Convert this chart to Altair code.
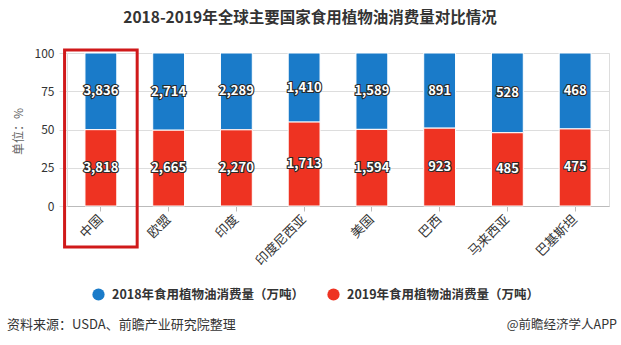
import altair as alt
import pandas as pd

countries = ["中国", "欧盟", "印度", "印度尼西亚", "美国", "巴西", "马来西亚", "巴基斯坦"]
v2018 = [3836, 2714, 2289, 1410, 1589, 891, 528, 468]
v2019 = [3818, 2665, 2270, 1713, 1594, 923, 485, 475]
series = ["2018年食用植物油消费量（万吨）", "2019年食用植物油消费量（万吨）"]
colors = ["#1a7bc9", "#ee3322"]
y_ticks = [0, 25, 50, 75, 100]
title_text = "2018-2019年全球主要国家食用植物油消费量对比情况"
source_text = "资料来源：USDA、前瞻产业研究院整理"
brand_text = "@前瞻经济学人APP"
highlight = ["中国"]

rows = []
for i, c in enumerate(countries):
    rows.append({"country": c, "series": series[0], "value": v2018[i], "ord": 1})
    rows.append({"country": c, "series": series[1], "value": v2019[i], "ord": 0})
df = pd.DataFrame(rows)

FONT = "Noto Sans CJK SC"

xenc = alt.X(
    "country:N",
    sort=countries,
    scale=alt.Scale(paddingInner=0.53, paddingOuter=0.265),
    axis=alt.Axis(
        title=None, labelAngle=-45, labelAlign="right", labelBaseline="middle",
        labelFontSize=13, labelColor="#333333", labelFont=FONT, labelPadding=6,
        domainColor="#bbbbbb", tickColor="#bbbbbb", tickSize=5, grid=False,
    ),
)

yaxis = alt.Axis(
    values=y_ticks, title="单位：%", titleFont=FONT,
    titleFontSize=12, titleFontWeight="normal", titleColor="#666666",
    titleX=-49, titleY=78, titleAngle=-90, titleAlign="center", titleBaseline="middle",
    labelFontSize=12, labelColor="#333333", labelFont=FONT, labelPadding=5,
    labelOverlap=False, domain=False, tickColor="#dddddd", tickSize=8,
    grid=True, gridColor="#dddddd",
)
yscale = alt.Scale(domain=[0, 100], nice=False, zero=True)

base = alt.Chart(df).transform_stack(
    stack="value", groupby=["country"], as_=["s0", "s1"], offset="normalize",
    sort=[alt.SortField("ord", order="ascending")],
).transform_calculate(
    p0="datum.s0*100", p1="datum.s1*100", mid="(datum.s0+datum.s1)*50"
)

bars = base.mark_bar(stroke="white", strokeWidth=1).encode(
    x=xenc,
    y=alt.Y("p0:Q", scale=yscale, axis=yaxis),
    y2="p1:Q",
    color=alt.Color(
        "series:N",
        scale=alt.Scale(domain=series, range=colors),
        legend=alt.Legend(
            title=None, orient="none", legendX=25, legendY=235, direction="horizontal",
            symbolType="circle", symbolSize=150, symbolStrokeWidth=0,
            labelFont=FONT, labelFontSize=12.5, labelFontWeight="bold", labelColor="#333333",
            columnPadding=22, labelOffset=7, labelLimit=0,
        ),
    ),
)

labels_bg = base.mark_text(
    font=FONT, fontSize=13, fontWeight="bold", fill="#2a2a2a", stroke="#2a2a2a", strokeWidth=2.2
).encode(x=xenc, y=alt.Y("mid:Q", scale=yscale, axis=yaxis), text=alt.Text("value:Q", format=","))

labels_fg = base.mark_text(
    font=FONT, fontSize=13, fontWeight="bold", fill="white"
).encode(x=xenc, y=alt.Y("mid:Q", scale=yscale, axis=yaxis), text=alt.Text("value:Q", format=","))

box_df = pd.DataFrame({"country": highlight})
box = alt.Chart(box_df).mark_bar(
    filled=False, stroke="#d0191a", strokeWidth=3, width=alt.RelativeBandSize(2.28)
).encode(x=xenc, y=alt.value(-3), y2=alt.value(194))

title = alt.Chart(pd.DataFrame({"t": [title_text]})).mark_text(
    font=FONT, fontSize=15.5, fontWeight="bold", color="#333333", align="center", baseline="middle"
).encode(x=alt.value(243), y=alt.value(-35), text="t:N")

src = alt.Chart(pd.DataFrame({"t": [source_text]})).mark_text(
    font=FONT, fontSize=13, color="#333333", align="left", baseline="middle"
).encode(x=alt.value(-60), y=alt.value(272), text="t:N")

brand = alt.Chart(pd.DataFrame({"t": [brand_text]})).mark_text(
    font=FONT, fontSize=12.5, color="#333333", align="right", baseline="middle"
).encode(x=alt.value(550), y=alt.value(272), text="t:N")

chart = alt.layer(bars, box, labels_bg, labels_fg, title, src, brand).properties(
    width=542, height=153,
    autosize=alt.AutoSizeParams(type="none"),
    padding={"left": 67, "top": 53, "right": 12, "bottom": 139},
).configure_view(stroke=None).configure(background="white")

chart.save("out.html", embed_options={"renderer": "svg", "actions": False})
